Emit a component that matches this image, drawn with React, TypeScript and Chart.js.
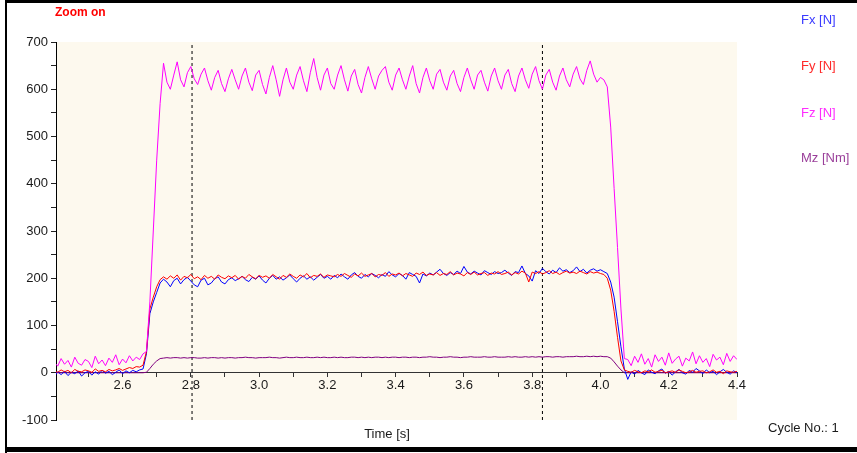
import React, { useEffect, useRef } from "react";
import { Chart, registerables } from "chart.js";

Chart.register(...registerables);

// Sample times [s]
const time = [
  2.40, 2.41, 2.42, 2.43, 2.44, 2.45, 2.46, 2.47, 2.48, 2.49,
  2.50, 2.51, 2.52, 2.53, 2.54, 2.55, 2.56, 2.57, 2.58, 2.59,
  2.60, 2.61, 2.62, 2.63, 2.64, 2.65, 2.66, 2.67, 2.68, 2.69,
  2.70, 2.71, 2.72, 2.73, 2.74, 2.75, 2.76, 2.77, 2.78, 2.79,
  2.80, 2.81, 2.82, 2.83, 2.84, 2.85, 2.86, 2.87, 2.88, 2.89,
  2.90, 2.91, 2.92, 2.93, 2.94, 2.95, 2.96, 2.97, 2.98, 2.99,
  3.00, 3.01, 3.02, 3.03, 3.04, 3.05, 3.06, 3.07, 3.08, 3.09,
  3.10, 3.11, 3.12, 3.13, 3.14, 3.15, 3.16, 3.17, 3.18, 3.19,
  3.20, 3.21, 3.22, 3.23, 3.24, 3.25, 3.26, 3.27, 3.28, 3.29,
  3.30, 3.31, 3.32, 3.33, 3.34, 3.35, 3.36, 3.37, 3.38, 3.39,
  3.40, 3.41, 3.42, 3.43, 3.44, 3.45, 3.46, 3.47, 3.48, 3.49,
  3.50, 3.51, 3.52, 3.53, 3.54, 3.55, 3.56, 3.57, 3.58, 3.59,
  3.60, 3.61, 3.62, 3.63, 3.64, 3.65, 3.66, 3.67, 3.68, 3.69,
  3.70, 3.71, 3.72, 3.73, 3.74, 3.75, 3.76, 3.77, 3.78, 3.79,
  3.80, 3.81, 3.82, 3.83, 3.84, 3.85, 3.86, 3.87, 3.88, 3.89,
  3.90, 3.91, 3.92, 3.93, 3.94, 3.95, 3.96, 3.97, 3.98, 3.99,
  4.00, 4.01, 4.02, 4.03, 4.04, 4.05, 4.06, 4.07, 4.08, 4.09,
  4.10, 4.11, 4.12, 4.13, 4.14, 4.15, 4.16, 4.17, 4.18, 4.19,
  4.20, 4.21, 4.22, 4.23, 4.24, 4.25, 4.26, 4.27, 4.28, 4.29,
  4.30, 4.31, 4.32, 4.33, 4.34, 4.35, 4.36, 4.37, 4.38, 4.39,
  4.40,
];

// Fx [N]
const fx = [
  -8, 2, -4, 3, -6, 1, -2, 4, -7, 0,
  3, -5, 2, -3, 5, -1, 3, -4, 1, 6,
  -2, 4, 0, 5, 2, 6, 8,
  40, 125, 150, 170, 190,
  198, 192, 182, 195, 200, 188, 197, 202, 194, 186,
  182, 196, 200, 186, 190, 199, 203, 192, 188, 197,
  201, 195, 199, 204, 197, 193, 202, 198, 205, 196,
  190, 200, 206, 198, 203, 196, 201, 207, 199, 192,
  200, 205, 198, 203, 196, 202, 208, 200, 204, 198,
  206, 201, 209, 203, 198, 207, 212, 204, 200, 208,
  203, 210, 206, 201, 208, 204, 214, 207, 203, 210,
  206, 198, 212, 208, 204, 190, 209, 205, 211, 207,
  213, 219, 210, 206, 212, 208, 215, 210, 225, 213,
  209, 215, 211, 207, 216, 212, 208, 214, 210, 212,
  217, 211, 206, 214, 212, 226, 210, 205, 194, 216,
  210, 221, 214, 209, 217, 212, 222, 215, 218, 212,
  216, 224, 214, 219, 211, 217, 220, 215, 218, 214,
  210, 192, 160, 108, 55, 8,
  -14, 2, -3, 5, 0, -4, 6, 1, -2, 4,
  8, -1, 3, -5, 2, 7, 0, -3, 5, 1,
  9, 4, -2, 6, 0, 3, -4, 2, 7, 1,
  -3, 4, 0,
];

// Fy [N]
const fy = [
  4, 1, 6, 2, 5, 0, 7, 3, 2, 6,
  4, 1, 8, 3, 5, 2, 7, 4, 6, 9,
  5, 8, 11, 9, 13, 12, 16,
  45, 135, 160, 182, 197,
  203, 198, 205, 200, 207, 196, 204, 201, 208, 199,
  203, 197, 206, 200, 204, 198, 207, 202, 199, 205,
  201, 206, 198, 204, 200, 208, 203, 199, 206, 202,
  205, 200, 208, 203, 198, 206, 202, 209, 204, 200,
  207, 203, 210, 201, 206, 204, 209, 202, 207, 205,
  203, 208, 204, 210, 206, 202, 209, 205, 211, 204,
  207, 210, 203, 208, 206, 212, 204, 209, 207, 211,
  205, 210, 207, 204, 211, 208, 213, 206, 209, 207,
  212, 206, 210, 208, 214, 207, 211, 209, 205, 212,
  208, 213, 207, 210, 212, 206, 211, 209, 214, 208,
  210, 213, 207, 212, 209, 215, 211, 192, 213, 210,
  214, 209, 212, 216, 210, 213, 208, 212, 215, 211,
  213, 210, 215, 212, 209, 214, 211, 213, 210, 208,
  200, 175, 130, 75, 25, 6,
  3, 1, 5, 2, 0, 4, 2, 6, 1, 3,
  5, 0, 2, 4, 1, 6, 3, 0, 2, 5,
  1, 3, 4, 0, 2, 6, 1, 3, -2, 4,
  2, 1, 3,
];

// Fz [N]
const fz = [
  22, 14, 30, 18, 26, 12, 33, 20, 16, 28,
  24, 11, 35, 19, 27, 15, 31, 22, 38, 17,
  29, 21, 36, 25, 33, 28, 40,
  45, 150, 300, 450, 570,
  655, 615, 600, 630, 658, 620, 605, 635, 648, 622, 610, 632, 645, 618, 598, 625,
  640, 612, 595, 622, 642, 620, 600, 628, 645, 615, 597, 630, 640, 610, 590, 625,
  650, 620, 585, 620, 645, 615, 600, 630, 648, 618, 595, 635, 665, 625, 598, 630,
  645, 612, 600, 630, 650, 620, 596, 628, 642, 610, 592, 625, 648, 622, 600, 628,
  640,
  648, 615, 598, 630, 645, 620, 600, 628, 650, 612, 592, 625, 645, 618, 600, 632,
  642, 615, 598, 628, 640, 612, 595, 625, 645, 620, 600, 630, 640, 615, 596, 628,
  645, 618, 600, 630, 642, 612, 595, 628, 645, 620, 602, 632, 648, 618, 600, 630,
  642, 615, 598, 628, 645, 620, 605, 632, 648, 622, 610, 640, 660, 632, 615, 625,
  620,
  605, 520, 390, 265, 135, 30,
  28, 15, 35, 22, 40, 18, 30, 12, 38, 24,
  33, 16, 42, 20, 29, 35, 14, 31, 25, 44,
  19, 36, 22, 30, 13, 39, 27, 33, 17, 41,
  24, 36, 28,
];

// Mz [Nm]
const mz = [
  0, 0, 0, 0, 0, 0, 0, 0, 0, 0,
  0, 0, 0, 0, 0, 0, 0, 0, 0, 0,
  0, 0, 0, 0, 0, 0, 0,
  1, 9, 18, 25, 30,
  31, 32, 31, 32, 32, 31, 32, 31, 32, 32,
  31, 31, 32, 31, 32, 32, 31, 32, 31, 32,
  32, 31, 32, 32, 33, 32, 32, 31, 32, 32,
  32, 33, 32, 32, 31, 32, 33, 32, 32, 33,
  32, 32, 33, 32, 32, 33, 32, 33, 32, 32,
  33, 32, 33, 32, 32, 33, 33, 32, 33, 32,
  33, 32, 33, 33, 32, 33, 32, 33, 33, 32,
  33, 33, 32, 33, 33, 32, 33, 33, 34, 33,
  33, 32, 33, 33, 34, 33, 33, 32, 33, 33,
  34, 33, 33, 33, 34, 33, 33, 34, 33, 33,
  33, 34, 33, 34, 33, 33, 34, 33, 34, 33,
  34, 33, 34, 34, 33, 34, 34, 33, 34, 34,
  34, 35, 34, 34, 35, 34, 35, 34, 35, 34,
  34, 31, 23, 14, 6, 0,
  0, 0, 0, 0, 0, 0, 0, 0, 0, 0,
  0, 0, 0, 0, 0, 0, 0, 0, 0, 0,
  0, 0, 0, 0, 0, 0, 0, 0, 0, 0,
  0, 0, 0,
];

// Cursor positions [s]
const cursors = [2.8035, 3.83];

const xMin = 2.405;
const xMax = 4.4;
const yMin = -100;
const yMax = 700;

const xTickValues = [
  2.5, 2.6, 2.7, 2.8, 2.9, 3.0, 3.1, 3.2, 3.3, 3.4,
  3.5, 3.6, 3.7, 3.8, 3.9, 4.0, 4.1, 4.2, 4.3, 4.4,
];
const yTickValues = [-100, -50, 0, 50, 100, 150, 200, 250, 300, 350, 400, 450, 500, 550, 600, 650, 700];

const seriesNames = ["Fx [N]", "Fy [N]", "Fz [N]", "Mz [Nm]"];
const lineColors = ["#0000ff", "#ff0000", "#ff00ff", "#800080"];
const legendColors = ["#3a3aff", "#ff2a2a", "#ff2cff", "#9a3f9a"];

const FONT = "'Liberation Sans', Arial, sans-serif";

const toPoints = (ys: number[]) => ys.map((y, i) => ({ x: time[i], y }));

export default function App() {
  const ref = useRef<HTMLCanvasElement | null>(null);

  useEffect(() => {
    const canvas = ref.current;
    if (!canvas) return;

    const decor = {
      id: "decor",
      beforeDraw(chart: any) {
        const { ctx, chartArea } = chart;
        ctx.save();
        ctx.fillStyle = "#ffffff";
        ctx.fillRect(0, 0, chart.width, chart.height);
        ctx.fillStyle = "#fdf9ee";
        ctx.fillRect(chartArea.left, chartArea.top, chartArea.right - chartArea.left, chartArea.bottom - chartArea.top);
        ctx.restore();
      },
      afterDraw(chart: any) {
        const { ctx } = chart;
        ctx.save();
        // frame
        ctx.fillStyle = "#000000";
        ctx.fillRect(5, 0, 852, 3);
        ctx.fillRect(5, 0, 2, 453);
        ctx.fillRect(5, 447, 852, 5);
        // Zoom label
        ctx.textBaseline = "middle";
        ctx.textAlign = "left";
        ctx.fillStyle = "#ff0000";
        ctx.font = `bold 12px ${FONT}`;
        ctx.fillText("Zoom on", 55, 13);
        // legend
        ctx.font = `13px ${FONT}`;
        const ys = [20, 66.5, 113, 158.5];
        seriesNames.forEach((n, i) => {
          ctx.fillStyle = legendColors[i];
          ctx.fillText(n, 801, ys[i]);
        });
        // axis title and cycle
        ctx.fillStyle = "#1a1a1a";
        ctx.textAlign = "center";
        ctx.fillText("Time [s]", 387, 434);
        ctx.textAlign = "left";
        ctx.fillText("Cycle No.: 1", 768, 428);
        ctx.restore();
      },
    };

    const datasets: any[] = [
      { label: seriesNames[0], data: toPoints(fx), borderColor: lineColors[0], order: 2 },
      { label: seriesNames[1], data: toPoints(fy), borderColor: lineColors[1], order: 1 },
      { label: seriesNames[2], data: toPoints(fz), borderColor: lineColors[2], order: 0 },
      { label: seriesNames[3], data: toPoints(mz), borderColor: lineColors[3], order: 3 },
      ...cursors.map((c) => ({
        label: "cursor",
        data: [
          { x: c, y: yMin },
          { x: c, y: yMax },
        ],
        borderColor: "#000000",
        borderDash: [3, 3],
        order: 4,
      })),
    ].map((d) => ({
      ...d,
      borderWidth: 1,
      pointRadius: 0,
      tension: 0,
      fill: false,
      backgroundColor: d.borderColor,
    }));

    const chart = new Chart(canvas, {
      type: "line",
      data: { datasets },
      options: {
        animation: false,
        responsive: false,
        maintainAspectRatio: false,
        devicePixelRatio: 1,
        layout: { padding: { left: 0, top: 42, right: 120, bottom: 33 } },
        plugins: { legend: { display: false }, tooltip: { enabled: false } },
        scales: {
          x: {
            type: "linear",
            min: xMin,
            max: xMax,
            position: { y: 0 } as any,
            afterBuildTicks: (scale: any) => {
              scale.ticks = xTickValues.map((v) => ({ value: v }));
            },
            grid: { drawOnChartArea: false, drawTicks: true, tickLength: 4, color: "#333333" },
            border: { display: true, color: "#333333" },
            ticks: {
              autoSkip: false,
              maxRotation: 0,
              padding: 1,
              color: "#1a1a1a",
              font: { family: FONT, size: 13 },
              callback: (v: any) => (Math.round(Number(v) * 10) % 2 === 0 ? Number(v).toFixed(1) : ""),
            },
          },
          y: {
            type: "linear",
            position: "left",
            min: yMin,
            max: yMax,
            afterBuildTicks: (scale: any) => {
              scale.ticks = yTickValues.map((v) => ({ value: v }));
            },
            afterFit: (scale: any) => {
              scale.width = 56;
            },
            grid: { drawOnChartArea: false, drawTicks: true, tickLength: 5, color: "#222222" },
            border: { display: true, color: "#000000" },
            ticks: {
              autoSkip: false,
              padding: 3,
              color: "#1a1a1a",
              font: { family: FONT, size: 13 },
              callback: (v: any) => (Number(v) % 100 === 0 ? String(v) : ""),
            },
          },
        },
      },
      plugins: [decor],
    });

    return () => chart.destroy();
  }, []);

  return (
    <div style={{ position: "absolute", left: 0, top: 0, width: 857, height: 453, background: "#fff" }}>
      <canvas ref={ref} width={857} height={453} style={{ display: "block" }} />
    </div>
  );
}
